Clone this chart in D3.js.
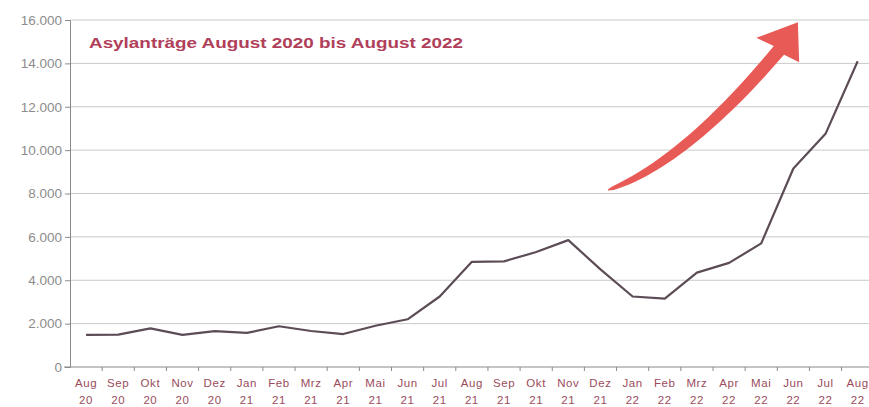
<!DOCTYPE html>
<html>
<head>
<meta charset="utf-8">
<script src="https://cdn.jsdelivr.net/npm/d3@7"></script>
<style>
  body { margin: 0; background: #fff; }
  svg { display: block; font-family: "Liberation Sans", Arial, sans-serif; }
</style>
</head>
<body>
<svg id="chart" width="869" height="407"></svg>
<script>
// monthly asylum applications
var months = ["Aug","Sep","Okt","Nov","Dez","Jan","Feb","Mrz","Apr","Mai","Jun","Jul",
              "Aug","Sep","Okt","Nov","Dez","Jan","Feb","Mrz","Apr","Mai","Jun","Jul","Aug"];
var years = ["20","20","20","20","20","21","21","21","21","21","21","21",
             "21","21","21","21","21","22","22","22","22","22","22","22","22"];
var antraege = [1480, 1490, 1780, 1480, 1650, 1570, 1880, 1660, 1520, 1900, 2200, 3250,
                4850, 4870, 5300, 5850, 4500, 3250, 3150, 4350, 4800, 5700, 9150, 10750, 14100];
var yTicks = [0, 2000, 4000, 6000, 8000, 10000, 12000, 14000, 16000];
var title = "Asylanträge August 2020 bis August 2022";

var width = 869, height = 407;
// note: "top" is a reserved window global, so use plot_* names
var plot_left = 70, plot_top = 20, plot_bottom = 367;
var step = 32.15;

var svg = d3.select("#chart");
var idx = months.map(function(m, i) { return i; });

var x = d3.scaleBand().domain(idx).range([plot_left, plot_left + step * idx.length]).padding(0);
var y = d3.scaleLinear().domain([0, 16000]).range([plot_bottom, plot_top]);
var cx = function(i) { return x(i) + x.bandwidth() / 2; };

var fmt = function(v) { return d3.format(",")(v).replace(/,/g, "."); };

// gridlines
svg.append("g").selectAll("line")
  .data(yTicks.filter(function(t) { return t > 0; }))
  .enter().append("line")
  .attr("x1", plot_left).attr("x2", width)
  .attr("y1", function(d) { return y(d); })
  .attr("y2", function(d) { return y(d); })
  .attr("stroke", "#c9c9c9").attr("stroke-width", 1);

// y axis
var yAxis = svg.append("g")
  .attr("transform", "translate(" + plot_left + ",0)")
  .call(d3.axisLeft(y).tickValues(yTicks).tickFormat(fmt).tickSize(5).tickPadding(3));
yAxis.select(".domain").attr("stroke", "#8a8a8a");
yAxis.selectAll(".tick line").attr("stroke", "#8a8a8a");
yAxis.selectAll("text").attr("fill", "#8c8c8c").attr("font-size", 13.5);

// x axis
var xAxisG = svg.append("g").attr("transform", "translate(0," + plot_bottom + ")");
xAxisG.append("line")
  .attr("x1", plot_left - 6).attr("x2", width)
  .attr("stroke", "#8a8a8a");
xAxisG.selectAll(".sep").data(idx.slice(1))
  .enter().append("line")
  .attr("x1", function(d) { return x(d); })
  .attr("x2", function(d) { return x(d); })
  .attr("y1", 0).attr("y2", 4)
  .attr("stroke", "#8a8a8a");
var lab = xAxisG.selectAll(".lab").data(idx)
  .enter().append("text")
  .attr("text-anchor", "middle")
  .attr("fill", "#9a4c5c")
  .attr("font-size", 11.5)
  .attr("letter-spacing", 0.6);
lab.append("tspan")
  .attr("x", function(d) { return cx(d); })
  .attr("y", 20)
  .text(function(d) { return months[d]; });
lab.append("tspan")
  .attr("x", function(d) { return cx(d); })
  .attr("y", 37)
  .text(function(d) { return years[d]; });

// the line
var line = d3.line()
  .x(function(d, i) { return cx(i); })
  .y(function(d) { return y(d); });
svg.append("path")
  .datum(antraege)
  .attr("d", line)
  .attr("fill", "none")
  .attr("stroke", "#5b4c56")
  .attr("stroke-width", 2.2)
  .attr("stroke-linejoin", "round");

// title (the scan is stretched wide, so stretch the glyphs too)
svg.append("text")
  .attr("x", plot_left + 19).attr("y", 48)
  .attr("fill", "#b0405a")
  .attr("font-size", 14)
  .attr("font-weight", "bold")
  .attr("textLength", 374)
  .attr("lengthAdjust", "spacingAndGlyphs")
  .text(title);

// red trend arrow, anchored in data units (fractional month index, value)
var px = function(fi) { return cx(0) + fi * step; };
var p0 = [px(16.23), y(8160)];    // tail
var c1 = [px(18.58), y(9380)];    // curve control
var p2 = [px(21.55), y(14600)];   // neck
var tip = [px(22.14), y(15900)];
var barbL = [px(20.85), y(15180)];
var barbR = [px(22.18), y(14050)];

var n = 30, leftSide = [], rightSide = [];
for (var i = 0; i <= n; i++) {
  var t = i / n, u = 1 - t;
  var bx = u * u * p0[0] + 2 * u * t * c1[0] + t * t * p2[0];
  var by = u * u * p0[1] + 2 * u * t * c1[1] + t * t * p2[1];
  var dx = 2 * u * (c1[0] - p0[0]) + 2 * t * (p2[0] - c1[0]);
  var dy = 2 * u * (c1[1] - p0[1]) + 2 * t * (p2[1] - c1[1]);
  var len = Math.sqrt(dx * dx + dy * dy);
  var w = 0.5 + 6.2 * Math.pow(t, 0.45);
  leftSide.push([bx + dy / len * w, by - dx / len * w]);
  rightSide.push([bx - dy / len * w, by + dx / len * w]);
}
var pts = leftSide.concat([barbL, tip, barbR]).concat(rightSide.reverse());
svg.append("path")
  .attr("d", d3.line()(pts) + "Z")
  .attr("fill", "#e85a55");
</script>
</body>
</html>
